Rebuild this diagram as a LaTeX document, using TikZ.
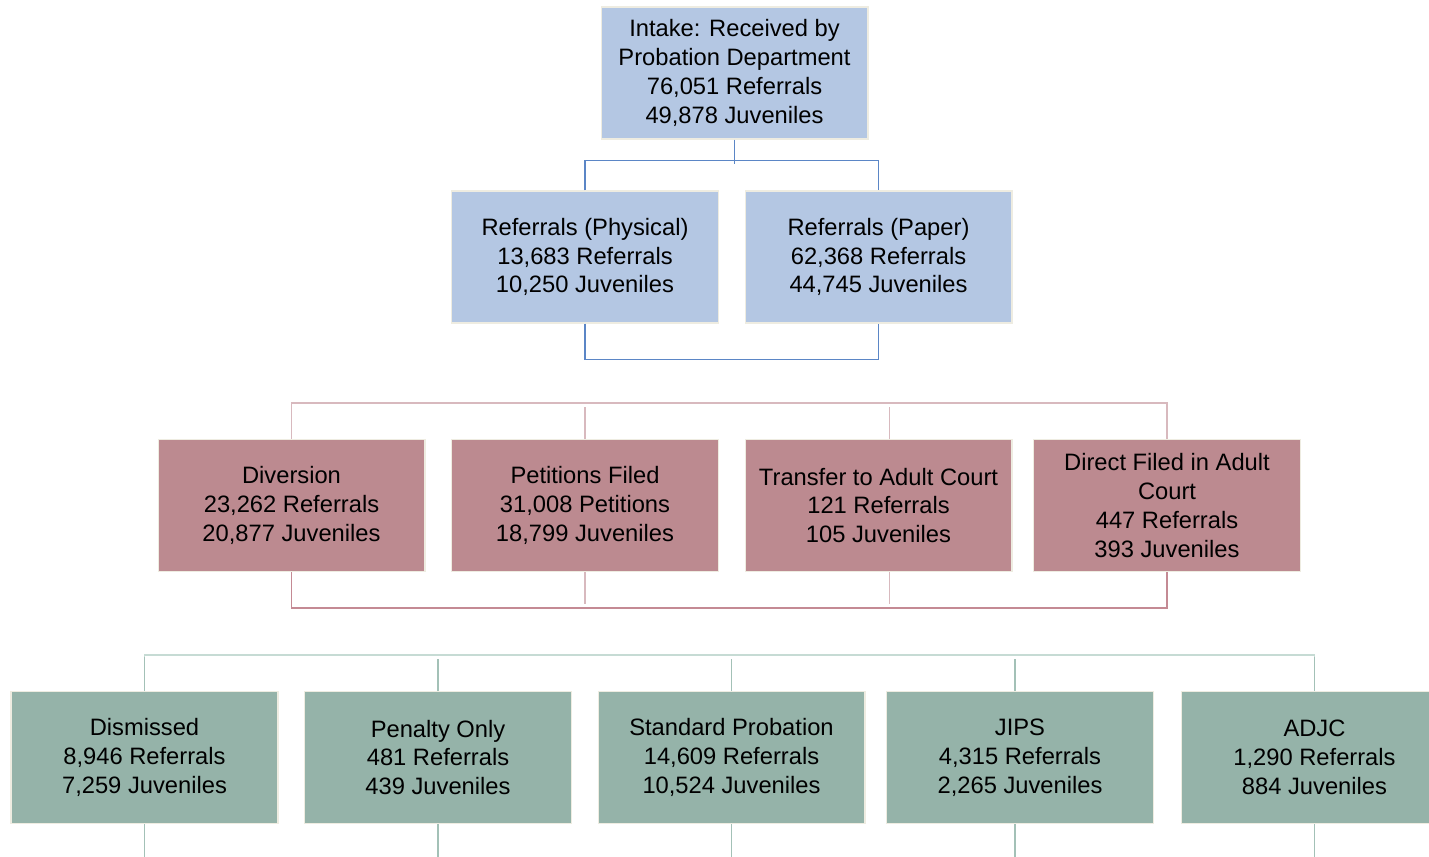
\documentclass[tikz,border=0pt]{standalone}
\usepackage{fontspec}
\setmainfont{Liberation Sans}
\usetikzlibrary{positioning}
\definecolor{mblue}{HTML}{B4C7E3}
\definecolor{mred}{HTML}{BC8A90}
\definecolor{mgreen}{HTML}{95B3A9}
\definecolor{medge}{HTML}{EEECE1}
\definecolor{lblue}{HTML}{5B86C6}
\definecolor{lred}{HTML}{C48A94}
\definecolor{lredpale}{HTML}{D8B9BE}
\definecolor{lgreen}{HTML}{A3C1B7}
\definecolor{lgreenpale}{HTML}{C6DBD4}
\tikzset{box/.style = {draw=medge, line width=0.6pt, inner sep=0pt,
                       minimum width=5.34cm, minimum height=2.64cm,
                       align=center, font=\fontsize{13.5}{16.4}\selectfont}}
\tikzset{bluebox/.style = {box, fill=mblue}}
\tikzset{redbox/.style = {box, fill=mred}}
\tikzset{greenbox/.style = {box, fill=mgreen}}
\tikzset{link/.style = {line width=0.7pt}}

\begin{document}
\begin{tikzpicture}[x=0.02cm, y=-0.02cm]
    \useasboundingbox (0, 0) rectangle (1429, 856);

    % intake level
    \node [bluebox] (intake) at (734.5, 73) {Intake: Received by\\Probation Department\\76,051 Referrals\\49,878 Juveniles};
    \node [bluebox] (phys) at (585, 257) {Referrals (Physical)\\13,683 Referrals\\10,250 Juveniles};
    \node [bluebox] (paper) at (878.5, 257) {Referrals (Paper)\\62,368 Referrals\\44,745 Juveniles};

    \draw [link, lblue] (intake.south) -- ++(0, 24);
    \draw [link, lblue] (phys.north) -- ++(0, -30) -| (paper.north);
    \draw [link, lblue] (phys.south) -- ++(0, 36) -| (paper.south);

    % outcome of petition
    \node [redbox] (divert) at (291.5, 505.5) {Diversion\\23,262 Referrals\\20,877 Juveniles};
    \node [redbox] (petit) at (585, 505.5) {Petitions Filed\\31,008 Petitions\\18,799 Juveniles};
    \node [redbox] (trans) at (878.5, 505.5) {Transfer to Adult Court\\121 Referrals\\105 Juveniles};
    \node [redbox] (direct) at (1167, 505.5) {Direct Filed in Adult\\Court\\447 Referrals\\393 Juveniles};

    \draw [link, lredpale] (divert.north) -- ++(0, -36) -| (direct.north);
    \draw [link, lredpale] (petit.north) -- ++(0, -32);
    \draw [link, lredpale] ([xshift=0.22cm]trans.north) -- ++(0, -32);
    \draw [link, lred] (divert.south) -- ++(0, 36) -| (direct.south);
    \draw [link, lredpale] (petit.south) -- ++(0, 32);
    \draw [link, lredpale] ([xshift=0.22cm]trans.south) -- ++(0, 32);

    % dispositions
    \node [greenbox] (dismiss) at (144.5, 757.5) {Dismissed\\8,946 Referrals\\7,259 Juveniles};
    \node [greenbox] (penalty) at (438, 757.5) {Penalty Only\\481 Referrals\\439 Juveniles};
    \node [greenbox] (standard) at (731.5, 757.5) {Standard Probation\\14,609 Referrals\\10,524 Juveniles};
    \node [greenbox] (jips) at (1020, 757.5) {JIPS\\4,315 Referrals\\2,265 Juveniles};
    \node [greenbox] (adjc) at (1314.5, 757.5) {ADJC\\1,290 Referrals\\884 Juveniles};

    \draw [link, lgreenpale] (dismiss.north) -- ++(0, -36) -| (adjc.north);
    \draw [link, lgreen] (dismiss.north) -- ++(0, -34);
    \draw [link, lgreen] (adjc.north) -- ++(0, -34);
    \foreach \n/\s in {penalty/0, standard/0, jips/-0.1}
      \draw [link, lgreen] ([xshift=\s cm]\n.north) -- ++(0, -32);
    \foreach \n/\s in {dismiss/0, penalty/0, standard/0, jips/-0.1, adjc/0}
      \draw [link, lgreen] ([xshift=\s cm]\n.south) -- ++(0, 40);
\end{tikzpicture}
\end{document}
